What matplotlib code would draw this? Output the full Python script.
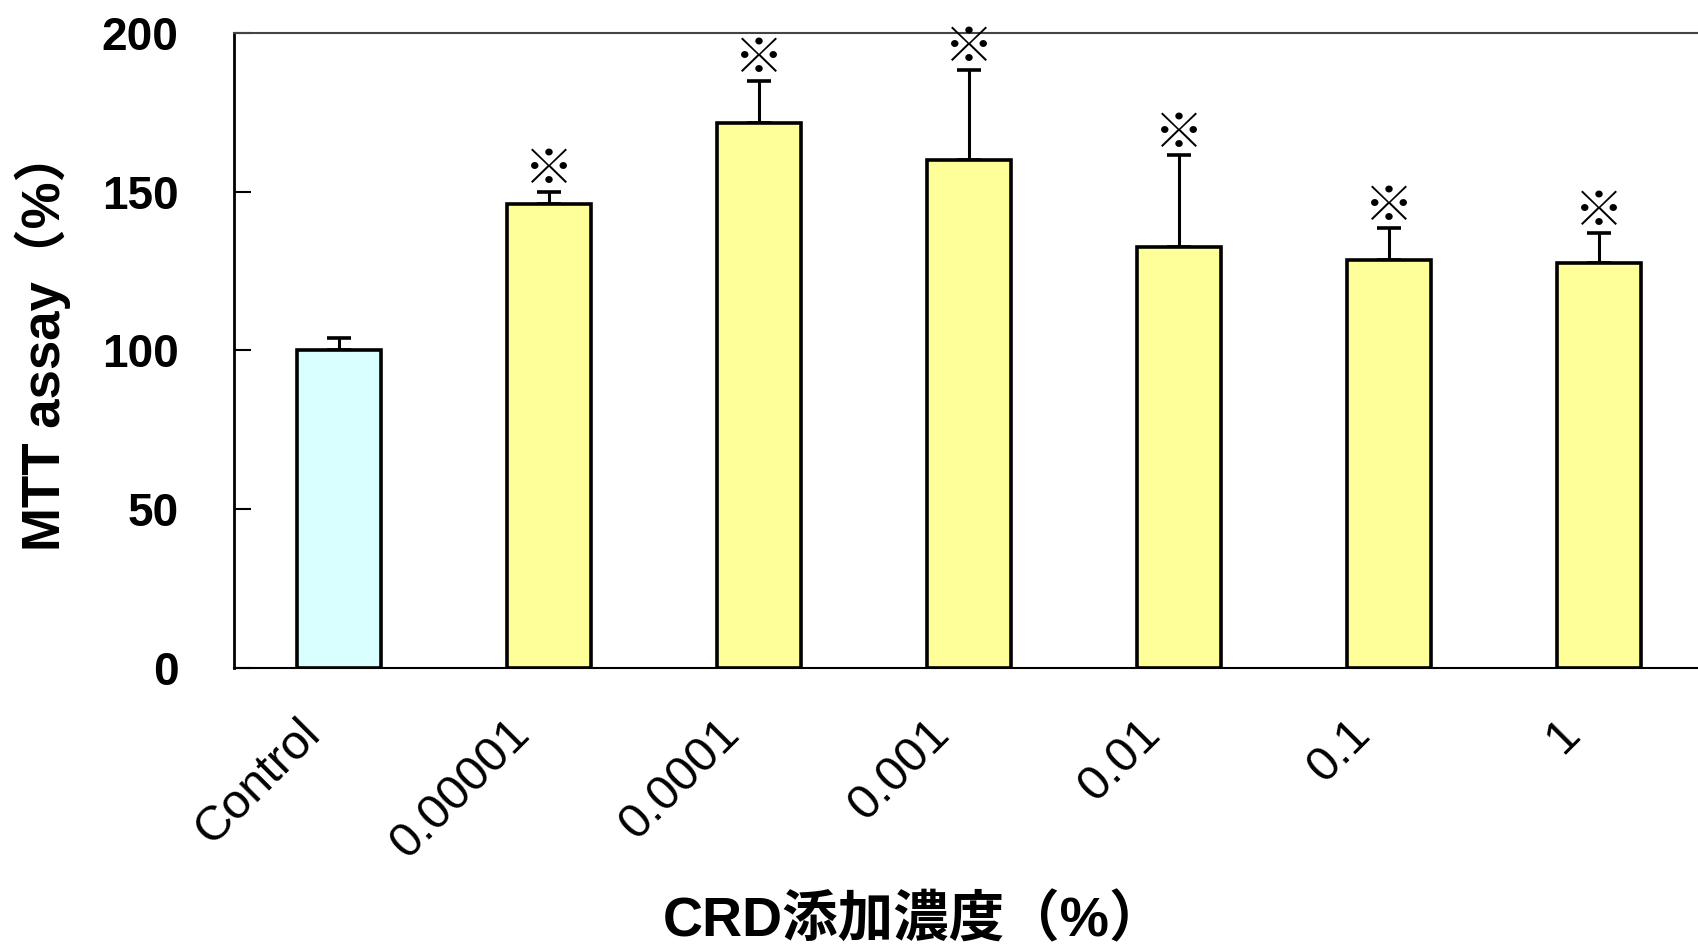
import matplotlib
matplotlib.use("Agg")
import matplotlib.pyplot as plt
import matplotlib.transforms as mtransforms
import numpy as np

# data
categories = ["Control", "0.00001", "0.0001", "0.001", "0.01", "0.1", "1"]
means = [100, 146, 171.5, 160, 132.5, 128.5, 127.5]
errors = [4, 4, 13.5, 28.5, 29, 10, 9.5]
significant = [False, True, True, True, True, True, True]

yticks = [0, 50, 100, 150, 200]

plt.rcParams['font.family'] = ['Liberation Sans', 'Noto Sans CJK JP', 'DejaVu Sans']

fig = plt.figure(figsize=(16.98, 9.48), dpi=100)
ax = fig.add_axes([0.1378, 0.2954, 0.8657, 0.6698])

x = np.arange(len(categories))
colors = ['#d9ffff'] + ['#ffff99'] * (len(categories) - 1)

ax.bar(x, means, width=0.4, color=colors, edgecolor='black', linewidth=2.6, zorder=2)
ax.errorbar(x, means, yerr=[np.zeros(len(errors)), errors], fmt='none',
            ecolor='black', elinewidth=2.2, capsize=8.5, capthick=2.6, zorder=1)

# significance marks
for xi, m, e, s in zip(x, means, errors, significant):
    if s:
        ax.annotate('※', (xi, m + e), xytext=(0, -4), textcoords='offset points',
                    ha='center', va='bottom', fontsize=36, fontweight='light',
                    family=['Noto Sans CJK JP'], annotation_clip=False)

ax.set_xlim(-0.5, len(categories) - 0.5)
ax.set_ylim(0, 200)
ax.set_yticks(yticks)
ax.set_yticklabels([str(t) for t in yticks], fontsize=33, fontweight='bold')
ax.set_xticks(x)
ax.set_xticklabels(categories, fontsize=35, rotation=45, ha='right',
                   rotation_mode='anchor')

ax.tick_params(axis='y', direction='in', length=12, width=1.5, pad=40)
ax.tick_params(axis='x', length=0, pad=31)
shift = mtransforms.ScaledTranslation(-0.42, 0, fig.dpi_scale_trans)
for lab in ax.get_xticklabels():
    lab.set_transform(lab.get_transform() + shift)

ax.spines['right'].set_visible(False)
ax.spines['left'].set_linewidth(2)
ax.spines['bottom'].set_linewidth(1.5)
ax.spines['top'].set_linewidth(1.5)
ax.spines['top'].set_color('#444444')

fig.text(0.538, 0.028, 'CRD添加濃度（%）', ha='center', va='center', fontsize=40,
         fontweight='bold', family=['Liberation Sans', 'Noto Sans CJK JP'])
fig.text(0.025, 0.641, 'MTT assay（%）', ha='center', va='center', rotation=90,
         fontsize=38, fontweight='bold', family=['Liberation Sans', 'Noto Sans CJK JP'])

fig.savefig("out.png", dpi=100)
